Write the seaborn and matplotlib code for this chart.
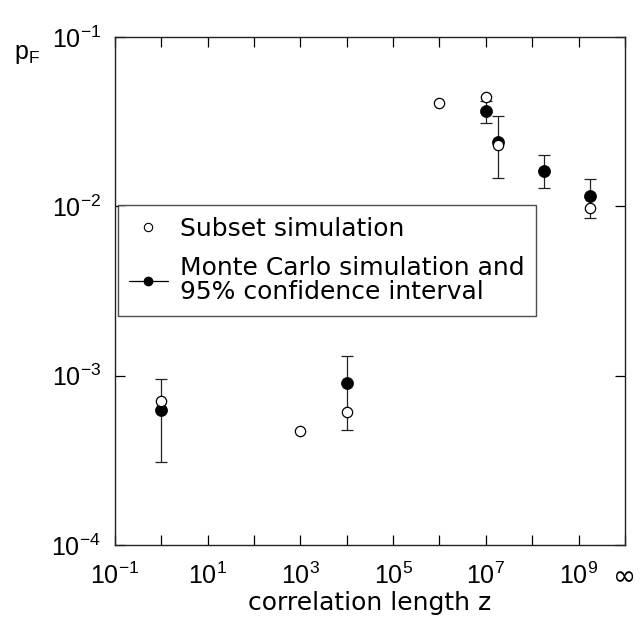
import matplotlib
matplotlib.use("Agg")
import matplotlib.pyplot as plt
from matplotlib.lines import Line2D
from matplotlib.ticker import NullLocator
import pandas as pd
import seaborn as sns

# subset simulation (open circles)
subset_z = [1, 1e3, 1e4, 1e6, 1e7, 1.8e7, 1.8e9]
subset_pf = [7.1e-4, 4.7e-4, 6.1e-4, 4.1e-2, 4.45e-2, 2.3e-2, 9.8e-3]

# monte carlo simulation with 95% confidence interval
mc_z = [1, 1e4, 1e7, 1.8e7, 1.8e8, 1.8e9]
mc_pf = [6.3e-4, 9.0e-4, 3.65e-2, 2.4e-2, 1.63e-2, 1.15e-2]
mc_lo = [3.1e-4, 4.8e-4, 3.1e-2, 1.47e-2, 1.28e-2, 8.6e-3]
mc_hi = [9.6e-4, 1.31e-3, 4.2e-2, 3.4e-2, 2.0e-2, 1.45e-2]

xtick_vals = [1e-1, 1e0, 1e1, 1e2, 1e3, 1e4, 1e5, 1e6, 1e7, 1e8, 1e9, 1e10]
xtick_labels = ["$10^{-1}$", "", "$10^{1}$", "", "$10^{3}$", "", "$10^{5}$", "",
                "$10^{7}$", "", "$10^{9}$", "∞"]
ytick_vals = [1e-4, 1e-3, 1e-2, 1e-1]
ytick_labels = ["$10^{-4}$", "$10^{-3}$", "$10^{-2}$", "$10^{-1}$"]

sns.set_style("ticks")
plt.rcParams['font.family'] = ['Liberation Sans', 'DejaVu Sans']
plt.rcParams['mathtext.fontset'] = 'custom'
plt.rcParams['mathtext.rm'] = 'Liberation Sans'
plt.rcParams['mathtext.it'] = 'Liberation Sans'
plt.rcParams['mathtext.default'] = 'regular'
plt.rcParams['text.color'] = 'black'
plt.rcParams['axes.labelcolor'] = 'black'

df_ss = pd.DataFrame({"z": subset_z, "pf": subset_pf})
df_mc = pd.DataFrame({"z": mc_z, "pf": mc_pf, "lo": mc_lo, "hi": mc_hi})

fig = plt.figure(figsize=(6.41, 6.19), dpi=100)
ax = fig.add_axes([0.179, 0.1195, 0.796, 0.8205])

# error bars
err_lo = df_mc["pf"] - df_mc["lo"]
err_hi = df_mc["hi"] - df_mc["pf"]
ax.errorbar(df_mc["z"], df_mc["pf"], yerr=[err_lo, err_hi], fmt="none",
            ecolor="#222222", elinewidth=0.9, capsize=4, capthick=0.9, zorder=2)

sns.scatterplot(data=df_mc, x="z", y="pf", ax=ax, color="black", s=75,
                edgecolor="black", linewidth=0.5, zorder=3, legend=False)
sns.scatterplot(data=df_ss, x="z", y="pf", ax=ax, facecolor="white", s=55,
                edgecolor="black", linewidth=0.9, zorder=4, legend=False)

ax.set_xscale("log")
ax.set_yscale("log")
ax.set_xlim(1e-1, 1e10)
ax.set_ylim(1e-4, 1e-1)

ax.set_xticks(xtick_vals, labels=xtick_labels)
ax.set_yticks(ytick_vals, labels=ytick_labels)
ax.xaxis.set_minor_locator(NullLocator())
ax.yaxis.set_minor_locator(NullLocator())

ax.tick_params(axis="both", which="major", direction="in", length=7, width=0.9,
               top=True, right=True, labelsize=18, colors="black")
ax.tick_params(axis="x", pad=13)
ax.tick_params(axis="y", pad=10)
inf_label = ax.get_xticklabels()[-1]
inf_label.set_fontfamily("DejaVu Sans")
inf_label.set_fontsize(20)
for sp in ax.spines.values():
    sp.set_visible(True)
    sp.set_linewidth(1.0)
    sp.set_color("#222222")

ax.set_xlabel("correlation length z", fontsize=18, family="DejaVu Sans", labelpad=0)
ax.set_ylabel("")
fig.text(0.022, 0.913, "p$_\\mathregular{F}$", fontsize=18, va="center", ha="left")

handles = [
    Line2D([], [], marker="o", linestyle="none", markerfacecolor="white",
           markeredgecolor="black", markersize=6, markeredgewidth=0.8),
    Line2D([], [], marker="o", linestyle="-", color="black", linewidth=0.9,
           markersize=6),
]
labels = ["Subset simulation", "Monte Carlo simulation and\n95% confidence interval"]
leg = ax.legend(handles, labels, loc="upper left", bbox_to_anchor=(0.006, 0.669),
                prop={"family": "DejaVu Sans", "size": 18}, frameon=True,
                fancybox=False, borderaxespad=0, handlelength=1.55,
                handletextpad=0.5, labelspacing=0.6, borderpad=0.45)
for t in leg.get_texts():
    t.set_linespacing(1.05)
leg.get_frame().set_edgecolor("#222222")
leg.get_frame().set_linewidth(1.0)

fig.savefig("out.png", dpi=100)
